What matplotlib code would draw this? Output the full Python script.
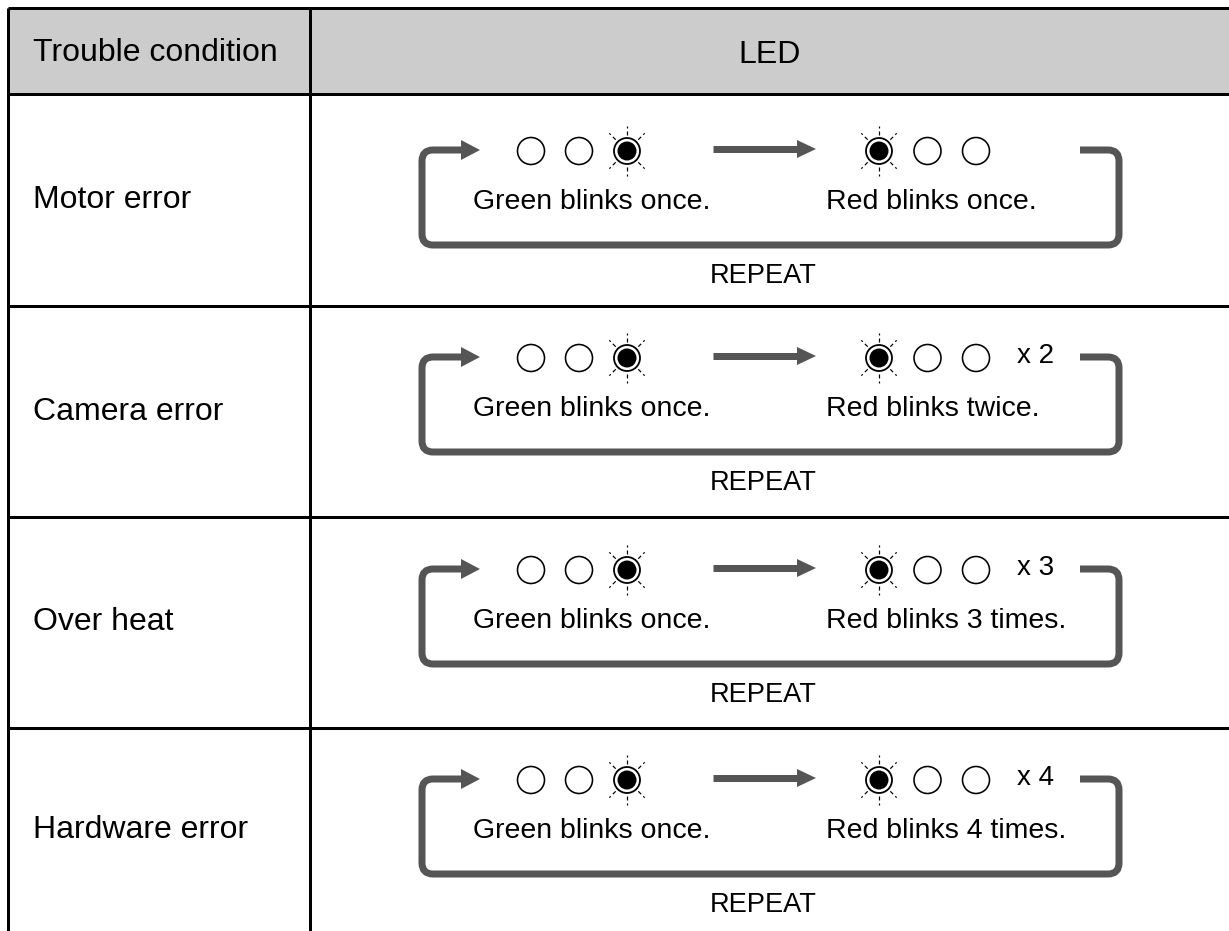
import matplotlib
matplotlib.use("Agg")
import matplotlib.pyplot as plt
from matplotlib.patches import Circle, Polygon, PathPatch, Rectangle
from matplotlib.path import Path
import numpy as np

# ---- data ----
headers = ["Trouble condition", "LED"]
conditions = ["Motor error", "Camera error", "Over heat", "Hardware error"]
green_labels = ["Green blinks once.", "Green blinks once.", "Green blinks once.", "Green blinks once."]
red_labels = ["Red blinks once.", "Red blinks twice.", "Red blinks 3 times.", "Red blinks 4 times."]
red_counts = [1, 2, 3, 4]
green_leds = [0, 0, 1]   # third LED lit
red_leds = [1, 0, 0]     # first LED lit
repeat_label = "REPEAT"

# ---- layout (pixels) ----
W, H = 1229, 931
fig = plt.figure(figsize=(W / 100, H / 100), dpi=100)
ax = fig.add_axes([0, 0, 1, 1])
ax.set_xlim(0, W)
ax.set_ylim(H, 0)
ax.axis("off")
PX = 0.72  # points per pixel

FONT = "Liberation Sans"
GRAY = "#555555"

x_left, x_div, y_top, y_head = 8, 310, 8, 94
row_lines = [94, 306, 517, 728]
row_bottom = [306, 517, 728, 931]
anchors = [150, 357, 569, 779]

# header background
ax.add_patch(Rectangle((x_left, y_top), W - x_left + 5, y_head - y_top,
                       facecolor="#cccccc", edgecolor="none", zorder=0))
# table lines
lw_t = 3 * PX
ax.plot([x_left, W + 5], [y_top, y_top], color="black", lw=lw_t, solid_capstyle="butt")
for y in row_lines:
    ax.plot([x_left, W + 5], [y, y], color="black", lw=lw_t, solid_capstyle="butt")
ax.plot([x_left, x_left], [y_top, H + 5], color="black", lw=lw_t, solid_capstyle="butt")
ax.plot([x_div, x_div], [y_top, H + 5], color="black", lw=lw_t, solid_capstyle="butt")

# header text
ax.text(33, 61, headers[0], fontsize=23, family=FONT, ha="left", va="baseline")
ax.text(770, 63, headers[1], fontsize=23, family=FONT, ha="center", va="baseline")


def led(x, y, lit):
    if not lit:
        ax.add_patch(Circle((x, y), 13.5, facecolor="white", edgecolor="black", lw=1.6 * PX, zorder=3))
        return
    ax.add_patch(Circle((x, y), 13.0, facecolor="white", edgecolor="black", lw=1.8 * PX, zorder=3))
    ax.add_patch(Circle((x, y), 9.5, facecolor="black", edgecolor="none", zorder=4))
    for ang in [45, 90, 135, 225, 270, 315]:
        a = np.deg2rad(ang)
        dx, dy = np.cos(a), -np.sin(a)
        for r0, r1 in [(16, 20), (23, 25)]:
            ax.plot([x + dx * r0, x + dx * r1], [y + dy * r0, y + dy * r1],
                    color="black", lw=1.2 * PX, solid_capstyle="butt", zorder=3)


for i, cond in enumerate(conditions):
    yc = (row_lines[i] + row_bottom[i]) / 2
    ax.text(33, yc + 8, cond, fontsize=23, family=FONT, ha="left", va="baseline")

    y0 = anchors[i]
    yb = y0 + 95
    xl, xr, r = 422, 1119, 11
    verts = [(462, y0), (xl + r, y0), (xl, y0), (xl, y0 + r),
             (xl, yb - r), (xl, yb), (xl + r, yb),
             (xr - r, yb), (xr, yb), (xr, yb - r),
             (xr, y0 + r), (xr, y0), (xr - r, y0), (1080, y0)]
    codes = [Path.MOVETO, Path.LINETO, Path.CURVE3, Path.CURVE3,
             Path.LINETO, Path.CURVE3, Path.CURVE3,
             Path.LINETO, Path.CURVE3, Path.CURVE3,
             Path.LINETO, Path.CURVE3, Path.CURVE3, Path.LINETO]
    ax.add_patch(PathPatch(Path(verts, codes), facecolor="none", edgecolor=GRAY,
                           lw=7 * PX, capstyle="butt", joinstyle="round", zorder=2))
    ax.add_patch(Polygon([(461, y0 - 10), (480, y0), (461, y0 + 10)], closed=True,
                         facecolor=GRAY, edgecolor="none", zorder=2))
    # middle arrow
    ax.plot([713, 798], [y0 - 1, y0 - 1], color=GRAY, lw=7 * PX, solid_capstyle="butt", zorder=2)
    ax.add_patch(Polygon([(797, y0 - 10), (816, y0 - 1), (797, y0 + 8)], closed=True,
                         facecolor=GRAY, edgecolor="none", zorder=2))

    # LEDs
    for k, lit in enumerate(green_leds):
        led(531 + 48 * k, y0 + 1, lit)
    for k, lit in enumerate(red_leds):
        led(879 + 48.5 * k, y0 + 1, lit)
    if red_counts[i] > 1:
        ax.text(1017, y0 + 6, f"x {red_counts[i]}", fontsize=20, family=FONT,
                ha="left", va="baseline")

    ax.text(473, y0 + 59, green_labels[i], fontsize=20.5, family=FONT, ha="left", va="baseline")
    ax.text(826, y0 + 59, red_labels[i], fontsize=20.5, family=FONT, ha="left", va="baseline")
    ax.text(763.5, y0 + 133, repeat_label, fontsize=19.6, family=FONT, ha="center", va="baseline")

fig.savefig("out.png", dpi=100)
